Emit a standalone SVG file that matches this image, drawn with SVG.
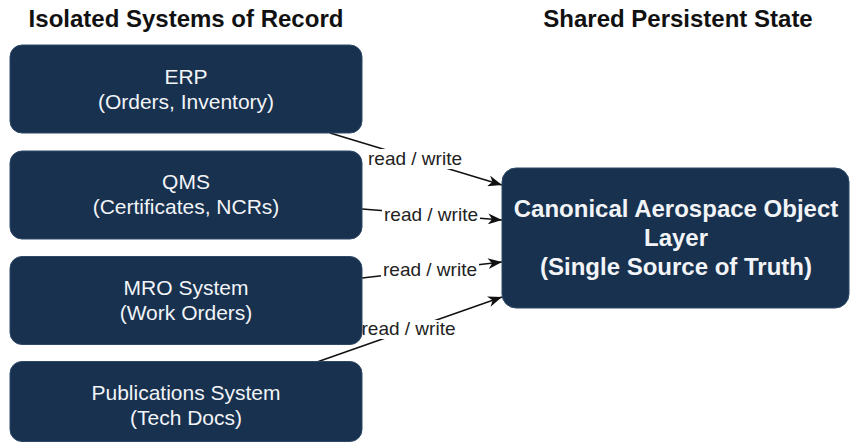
<svg xmlns="http://www.w3.org/2000/svg" width="851" height="447" viewBox="0 0 851 447">
<style>
.box{fill:#17314f;stroke:#2e4868;stroke-width:1}
.t{font-family:"Liberation Sans",Arial,sans-serif;text-anchor:middle}
.nt{fill:#f2f4f7;font-size:21px}
.bt{fill:#f2f4f7;font-size:24px;font-weight:bold}
.h{fill:#111;font-size:24px;font-weight:bold}
.lbl{fill:#222;font-size:19px}
.edge{stroke:#111;stroke-width:1.5;fill:none;marker-end:url(#arr)}
.lb{fill:#fff}
</style>
<defs>
<marker id="arr" markerUnits="userSpaceOnUse" markerWidth="15" markerHeight="11" refX="14" refY="5.5" orient="auto">
<path d="M0,0 L14,5.5 L0,11 L4,5.5 Z" fill="#111"/>
</marker>
</defs>
<g id="titles">
<text class="t h" x="186" y="27">Isolated Systems of Record</text>
<text class="t h" x="678" y="27">Shared Persistent State</text>
</g>
<g id="connectors">
<path class="edge" d="M330,133 L502,185"/>
<path class="edge" d="M362,209 L502,220"/>
<path class="edge" d="M362,278 L502,262"/>
<path class="edge" d="M317,362 L502,297"/>
<rect class="lb" x="366" y="149" width="99" height="20"/>
<text class="t lbl" x="415" y="165">read / write</text>
<rect class="lb" x="382" y="206" width="98" height="19"/>
<text class="t lbl" x="431" y="221">read / write</text>
<rect class="lb" x="381" y="261" width="98" height="19"/>
<text class="t lbl" x="430" y="276">read / write</text>
<rect class="lb" x="360" y="320" width="97" height="19"/>
<text class="t lbl" x="408.5" y="335">read / write</text>
</g>
<g id="erp">
<rect class="box" x="10" y="45" width="352" height="88" rx="12"/>
<text class="t nt" x="186" y="84">ERP</text>
<text class="t nt" x="186" y="109">(Orders, Inventory)</text>
</g>
<g id="qms">
<rect class="box" x="10" y="151" width="352" height="88" rx="12"/>
<text class="t nt" x="186" y="189">QMS</text>
<text class="t nt" x="186" y="214">(Certificates, NCRs)</text>
</g>
<g id="mro">
<rect class="box" x="10" y="256.5" width="352" height="88" rx="12"/>
<text class="t nt" x="186" y="295">MRO System</text>
<text class="t nt" x="186" y="320">(Work Orders)</text>
</g>
<g id="pubs">
<rect class="box" x="10" y="361.5" width="352" height="80" rx="12"/>
<text class="t nt" x="186" y="400">Publications System</text>
<text class="t nt" x="186" y="425">(Tech Docs)</text>
</g>
<g id="canonical">
<rect class="box" x="502" y="168" width="347" height="140" rx="14"/>
<text class="t bt" x="676" y="216.5">Canonical Aerospace Object</text>
<text class="t bt" x="676" y="245.5">Layer</text>
<text class="t bt" x="676" y="274.5">(Single Source of Truth)</text>
</g>
</svg>
